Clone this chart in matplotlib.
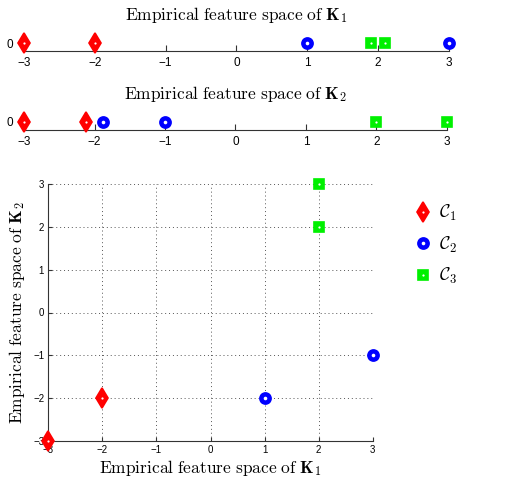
import matplotlib
matplotlib.use("Agg")
import matplotlib.pyplot as plt

plt.rcParams['mathtext.fontset'] = 'cm'
plt.rcParams['font.family'] = ['Liberation Sans', 'DejaVu Sans']
plt.rcParams['axes.unicode_minus'] = True

# Data
ticks = [-3, -2, -1, 0, 1, 2, 3]
k1_c1 = [-3, -2]
k1_c2 = [1, 3]
k1_c3 = [1.9, 2.1]
k2_c1 = [-3, -2.12]
k2_c2 = [-1.88, -1]
k2_c3 = [2, 3]
sc_c1_x = [-3, -2]; sc_c1_y = [-3, -2]
sc_c2_x = [1, 3];   sc_c2_y = [-2, -1]
sc_c3_x = [2, 2];   sc_c3_y = [2, 3]
labels = [r'$\mathcal{C}_1$', r'$\mathcal{C}_2$', r'$\mathcal{C}_3$']
title1 = r'$\mathrm{Empirical\ feature\ space\ of\ }\mathbf{K}_1$'
title2 = r'$\mathrm{Empirical\ feature\ space\ of\ }\mathbf{K}_2$'

RED, BLUE, GREEN = '#ff0000', '#0000ff', '#00f000'
styles = [dict(marker='d', color=RED, ms=10, hole=1.6),
          dict(marker='o', color=BLUE, ms=8, hole=2.6),
          dict(marker='s', color=GREEN, ms=7, hole=1.6)]

def mk(ax, x, y, st):
    h1, = ax.plot(x, y, linestyle='none', marker=st['marker'], markersize=st['ms'],
                  markeredgewidth=1.2, markeredgecolor=st['color'],
                  markerfacecolor=st['color'], clip_on=False, zorder=5)
    h2, = ax.plot(x, y, linestyle='none', marker='o', markersize=st['hole'],
                  markeredgewidth=0, markerfacecolor='white', clip_on=False, zorder=6)
    return (h1, h2)

W, H = 522, 480
fig = plt.figure(figsize=(W/100, H/100), dpi=100)

def oned(bottom_px, right_px, title, data):
    left = 24/W
    ax = fig.add_axes([left, 1-bottom_px/H, (right_px-24)/W, 20/H])
    for vals, st in zip(data, styles):
        mk(ax, vals, [0]*len(vals), st)
    ax.set_xlim(-3, 3)
    ax.set_ylim(-1, 1.5)
    ax.set_xticks(ticks)
    ax.set_yticks([0])
    for s in ['top', 'right', 'left']:
        ax.spines[s].set_visible(False)
    ax.spines['bottom'].set_color('#333333')
    ax.tick_params(axis='x', direction='in', length=4, labelsize=8.5, pad=4, color='#333333')
    ax.tick_params(axis='y', length=0, labelsize=8.5, pad=8)
    ax.set_title(title, fontsize=12.5, pad=8)
    return ax

oned(51, 449, title1, [k1_c1, k1_c2, k1_c3])
oned(130, 447, title2, [k2_c1, k2_c2, k2_c3])

ax = fig.add_axes([48.3/W, 1-440.7/H, 324.4/W, 256.4/H])
hs = [mk(ax, sc_c1_x, sc_c1_y, styles[0]),
      mk(ax, sc_c2_x, sc_c2_y, styles[1]),
      mk(ax, sc_c3_x, sc_c3_y, styles[2])]
ax.set_xlim(-3, 3)
ax.set_ylim(-3, 3)
ax.set_xticks(ticks)
ax.set_yticks(ticks)
ax.grid(True, linestyle=(0, (1, 3)), color='#555555', linewidth=0.7)
for s in ['top', 'right']:
    ax.spines[s].set_visible(False)
for s in ['left', 'bottom']:
    ax.spines[s].set_color('#333333')
ax.tick_params(direction='in', length=3, labelsize=7, pad=3, color='#333333')
ax.set_xlabel(title1, fontsize=12.5, labelpad=2)
ax.set_ylabel(title2, fontsize=12.5, labelpad=4)
ax.legend(hs, labels, loc='upper left', bbox_to_anchor=(1.1, 0.955), frameon=False,
          fontsize=13, labelspacing=0.63, handletextpad=0.3, handlelength=1.2,
          numpoints=1, borderaxespad=0)

fig.savefig('out.png', dpi=100)
